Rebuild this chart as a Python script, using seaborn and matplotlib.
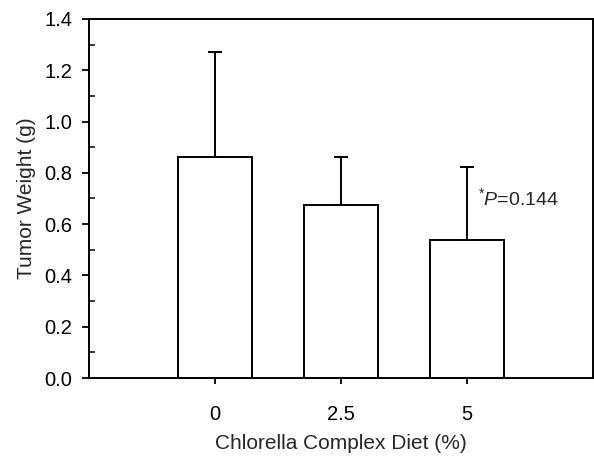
import matplotlib
matplotlib.use("Agg")
import matplotlib.pyplot as plt
import seaborn as sns
import pandas as pd
from matplotlib.ticker import MultipleLocator, FormatStrFormatter

diet = ["0", "2.5", "5"]
weight = [0.86, 0.675, 0.54]
upper = [1.273, 0.862, 0.822]

sns.set_theme(style="ticks")
plt.rcParams["font.family"] = ["Liberation Sans", "DejaVu Sans"]
plt.rcParams["mathtext.fontset"] = "custom"
plt.rcParams["mathtext.rm"] = "Liberation Sans"
plt.rcParams["mathtext.it"] = "Liberation Sans:italic"

df = pd.DataFrame({"diet": diet, "weight": weight})

fig = plt.figure(figsize=(5.94, 4.58), dpi=100)
ax = fig.add_axes([89/594, 1-378/458, (593-89)/594, (378-19)/458])

sns.barplot(data=df, x="diet", y="weight", order=diet, color="white",
            edgecolor="black", linewidth=1.4, width=0.59, errorbar=None, ax=ax)

err_hi = [u - w for u, w in zip(upper, weight)]
ax.errorbar(range(len(diet)), weight, yerr=[[0]*len(diet), err_hi], fmt="none",
            ecolor="black", elinewidth=1.4, capsize=4.7, capthick=1.4, zorder=3)

ax.set_xlim(-1, 3)
ax.set_ylim(0, 1.4)
ax.yaxis.set_major_locator(MultipleLocator(0.2))
ax.yaxis.set_minor_locator(MultipleLocator(0.1))
ax.yaxis.set_major_formatter(FormatStrFormatter("%.1f"))
ax.tick_params(axis="y", which="major", direction="out", length=5, width=1.3,
               labelsize=14.5, pad=7, colors="black")
ax.tick_params(axis="y", which="minor", direction="in", length=4, width=1.3)
ax.tick_params(axis="x", which="major", direction="out", length=4.5, width=1.3,
               labelsize=14.5, pad=15, colors="black")
for s in ax.spines.values():
    s.set_visible(True)
    s.set_linewidth(1.4)
    s.set_color("black")

ax.set_xlabel("Chlorella Complex Diet (%)", fontsize=15, labelpad=7)
ax.set_ylabel("Tumor Weight (g)", fontsize=15, labelpad=6)

ax.text(2.09, 0.70, r"$^{*}\mathit{P}$=0.144", fontsize=14, va="center", ha="left")

fig.savefig("out.png", dpi=100)
